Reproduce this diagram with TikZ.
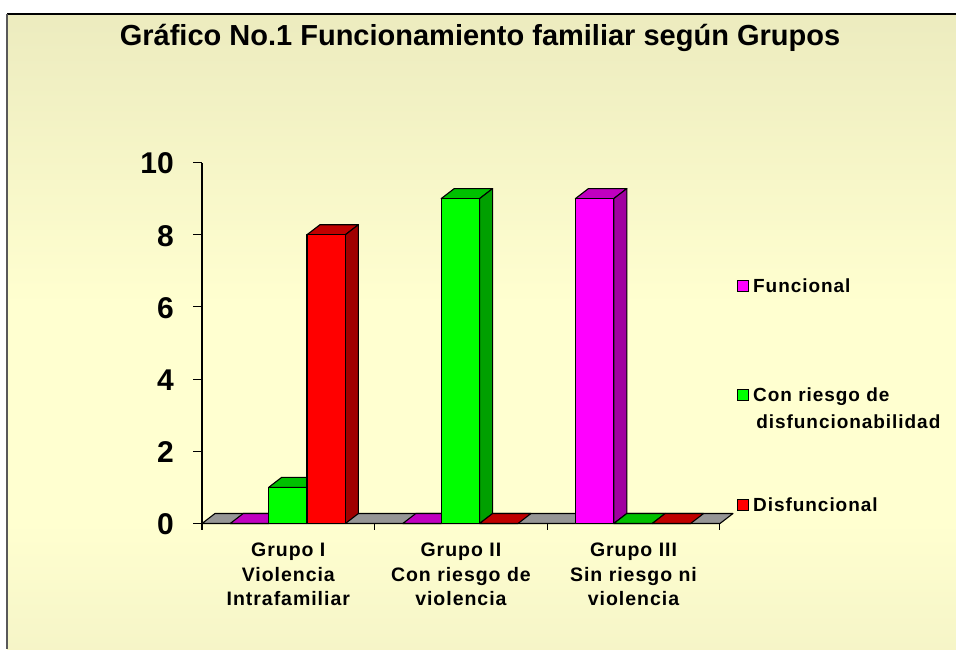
\documentclass[tikz,border=0pt]{standalone}
\usepackage{fontspec}
\setmainfont{Liberation Sans}
\newfontfamily\trk[LetterSpace=5]{Liberation Sans}
\definecolor{bgtop}{RGB}{216,214,172}
\definecolor{bgmid}{RGB}{255,255,208}
\definecolor{bgbot}{RGB}{222,220,178}
\definecolor{floorgray}{RGB}{150,150,150}
\definecolor{magF}{RGB}{255,0,255}
\definecolor{magT}{RGB}{192,0,192}
\definecolor{magS}{RGB}{160,0,160}
\definecolor{grnF}{RGB}{0,255,0}
\definecolor{grnT}{RGB}{0,192,0}
\definecolor{grnS}{RGB}{0,160,0}
\definecolor{redF}{RGB}{255,0,0}
\definecolor{redT}{RGB}{192,0,0}
\definecolor{redS}{RGB}{160,0,0}
\pgfdeclareverticalshading{bgshade}{100bp}{color(0bp)=(bgbot); color(35bp)=(bgmid); color(52bp)=(bgmid); color(100bp)=(bgtop)}
\newcommand\cbar[5]{%
  \pgfmathsetmacro\yt{523.5-36.1*#2}%
  \ifdim #2pt>0pt
    \filldraw[barline,fill=#4] (#1,\yt) -- ++(13,-10) -- ++(38.4,0) -- ++(-13,10) -- cycle;
    \filldraw[barline,fill=#5] (#1+38.4,\yt) -- ++(13,-10) -- (#1+51.4,513.5) -- (#1+38.4,523.5) -- cycle;
    \filldraw[barline,fill=#3] (#1,\yt) rectangle (#1+38.4,523.5);
  \else
    \filldraw[barline,fill=#4] (#1,523.5) -- ++(13,-10) -- ++(38.4,0) -- ++(-13,10) -- cycle;
  \fi}
\begin{document}
\begin{tikzpicture}[x=1pt,y=-1pt,
  barline/.style={draw=black,line width=1.1pt,line join=round},
  axisline/.style={draw=black,line width=1.1pt},
  ytl/.style={font=\bfseries\fontsize{30}{34}\selectfont,anchor=east,inner sep=0pt},
  cattext/.style={font=\trk\bfseries\fontsize{19.5}{24.5}\selectfont,align=center,inner sep=0pt},
  legtext/.style={font=\trk\bfseries\fontsize{19}{27}\selectfont,align=left,anchor=west,inner sep=0pt},
  legbox/.style={draw=black,line width=1.1pt,minimum size=11pt,inner sep=0pt}]
\useasboundingbox (0,0) rectangle (956,649);
\fill[white] (0,0) rectangle (956,649);
\shade[shading=bgshade] (7,14) rectangle (956,649);
\draw[black,line width=1.2pt] (7,14) -- (956,14);
\draw[black!65,line width=2.2pt] (7,14) -- (7,649);
\node[font=\bfseries\fontsize{29}{34}\selectfont] (title) at (480,38) {Gráfico No.1 Funcionamiento familiar según Grupos};
% y axis
\draw[axisline] (202,163) -- (202,523.5);
\foreach \v in {0,2,4,6,8,10}{
  \draw[axisline] (193,523.5-36.1*\v) -- (202,523.5-36.1*\v);
  \node[ytl] (yl\v) at (174,524.5-36.1*\v) {\v};
}
% floor
\filldraw[barline,fill=floorgray] (202,523.5) -- (720,523.5) -- (733,513.5) -- (215,513.5) -- cycle;
\foreach \k in {0,1,2,3}{
  \draw[axisline] (202+172.6*\k,523.5) -- (202+172.6*\k,530);
}
% group I
\cbar{230.2}{0}{magF}{magT}{magS}
\cbar{268.6}{1}{grnF}{grnT}{grnS}
\cbar{307.0}{8}{redF}{redT}{redS}
% group II
\cbar{402.8}{0}{magF}{magT}{magS}
\cbar{441.2}{9}{grnF}{grnT}{grnS}
\cbar{479.6}{0}{redF}{redT}{redS}
% group III
\cbar{575.4}{9}{magF}{magT}{magS}
\cbar{613.8}{0}{grnF}{grnT}{grnS}
\cbar{652.2}{0}{redF}{redT}{redS}
% category labels
\node[cattext] (c1) at (288.3,574.5) {Grupo I\\Violencia\\Intrafamiliar};
\node[cattext] (c2) at (460.9,574.5) {Grupo II\\Con riesgo de\\violencia};
\node[cattext] (c3) at (633.5,574.5) {Grupo III\\Sin riesgo ni\\violencia};
% legend
\node[legbox,fill=magF] (lb1) at (743,286) {};
\node[legbox,fill=grnF] (lb2) at (743,395) {};
\node[legbox,fill=redF] (lb3) at (743,505) {};
\node[legtext] (lt1) at (753,286) {Funcional};
\node[legtext] (lt2) at (753,408.5) {Con riesgo de\\\,disfuncionabilidad};
\node[legtext] (lt3) at (753,505) {Disfuncional};
\end{tikzpicture}
\end{document}
